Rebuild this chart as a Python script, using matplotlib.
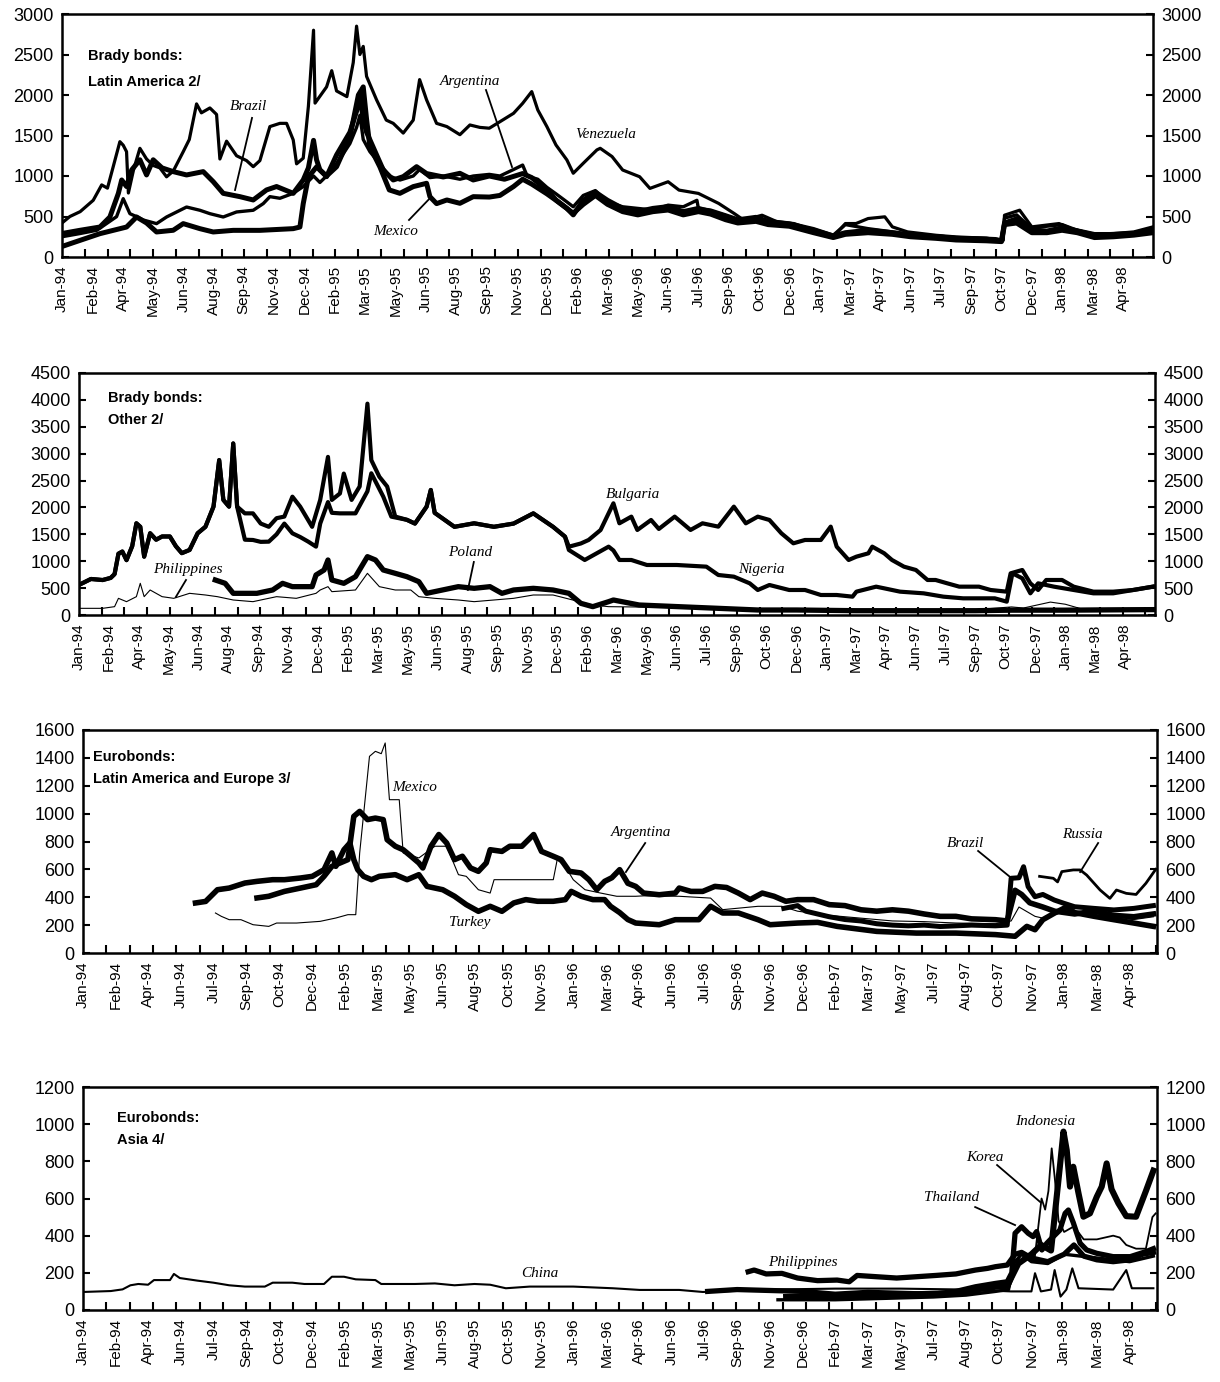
import matplotlib
matplotlib.use("Agg")
import matplotlib.pyplot as plt
import numpy as np

# ---------------- tick labels ----------------
labels_brady = ['Jan-94','Feb-94','Apr-94','May-94','Jun-94','Aug-94','Sep-94','Nov-94','Dec-94',
                'Feb-95','Mar-95','May-95','Jun-95','Aug-95','Sep-95','Nov-95','Dec-95','Feb-96',
                'Mar-96','May-96','Jun-96','Jul-96','Sep-96','Oct-96','Dec-96','Jan-97','Mar-97',
                'Apr-97','Jun-97','Jul-97','Sep-97','Oct-97','Dec-97','Jan-98','Mar-98','Apr-98']
labels_euro = ['Jan-94','Feb-94','Apr-94','Jun-94','Jul-94','Sep-94','Oct-94','Dec-94','Feb-95',
               'Mar-95','May-95','Jun-95','Aug-95','Oct-95','Nov-95','Jan-96','Mar-96','Apr-96',
               'Jun-96','Jul-96','Sep-96','Nov-96','Dec-96','Feb-97','Mar-97','May-97','Jul-97',
               'Aug-97','Oct-97','Nov-97','Jan-98','Mar-98','Apr-98']

# x positions are in units of tick-label slots (0 = first label)
# ---------------- Panel 1: Brady bonds, Latin America ----------------
ven_x = [0,0.26,0.6,1.03,1.31,1.5,1.69,1.91,2.02,2.13,2.19,2.36,2.57,2.79,3.01,3.23,3.45,3.67,4.0,4.2,4.44,4.6,4.88,5.1,5.21,
         5.43,5.76,6.09,6.31,6.53,6.86,7.19,7.41,7.63,7.74,7.96,8.13,8.3,8.35,8.73,8.9,9.06,9.4,9.61,9.72,9.83,9.94,10.05,
         10.38,10.7,10.93,11.26,11.59,11.8,12.03,12.36,12.7,13.13,13.46,13.79,14.1,14.45,14.9,15.2,15.5,15.7,16.0,16.3,16.66,
         16.87,17.2,17.65,17.76,18.15,18.5,19.06,19.4,20.0,20.36,21.0,21.67,22.18,22.5,23.1,23.6,24.15,24.8,25.45,25.85,26.2,
         26.6,27.15,27.4,27.9,28.85,29.5,30.8,31.06,31.1,31.6,32.0,32.9,33.3,34.07,34.7,35.37,36.0]
ven_y = [420,500,560,700,890,850,1115,1424,1380,1300,790,1075,1342,1210,1130,1100,990,1060,1300,1450,1890,1780,1840,1760,1210,
         1430,1250,1190,1115,1190,1610,1650,1650,1445,1150,1220,1860,2800,1900,2100,2300,2050,1980,2400,2850,2500,2600,2230,
         1940,1690,1650,1530,1690,2190,1940,1650,1610,1510,1630,1600,1590,1670,1774,1897,2042,1815,1610,1383,1198,
         1034,1157,1322,1342,1240,1074,991,847,929,826,785,661,537,454,516,434,413,330,248,413,413,
         475,496,372,310,268,248,227,206,516,578,372,413,351,289,289,310,372]

bra_x = [0,0.6,1.25,1.58,1.86,1.97,2.13,2.3,2.57,2.79,3.01,3.3,3.67,4.11,4.66,4.99,5.32,5.87,6.31,6.75,7.08,7.63,7.96,8.13,
         8.3,8.4,8.51,8.73,9.06,9.5,9.72,9.83,9.94,10.05,10.38,10.6,10.93,11.26,11.7,12.03,12.58,13.13,13.57,14.1,14.6,15.2,
         15.5,16.0,16.3,16.66,16.87,17.2,17.6,18.0,18.5,19.0,19.5,20.0,20.5,21.0,21.4,21.9,22.3,22.9,23.3,24.0,24.8,25.45,
         25.85,26.6,27.4,28.0,28.85,29.5,30.5,31.0,31.1,31.5,32.0,32.5,33.0,33.5,34.07,34.7,35.37,36.0]
bra_y = [290,330,370,494,786,951,870,1075,1200,1013,1200,1100,1054,1013,1054,930,786,745,704,828,870,786,951,1100,
         1440,1200,1075,992,1260,1540,1800,2000,1700,1540,1260,1075,951,992,1115,1030,988,1033,951,1000,960,1030,
         980,828,704,600,520,700,800,700,600,560,600,622,560,600,560,500,430,470,430,400,330,260,
         300,330,300,270,250,230,220,200,420,470,330,320,360,320,260,270,290,330]

arg_x = [0,0.6,1.15,1.8,2.02,2.24,2.46,2.68,3.12,3.45,4.11,4.55,4.88,5.32,5.76,6.31,6.64,6.86,7.19,7.63,7.96,8.3,8.51,8.73,
         9.06,9.5,9.72,9.83,9.94,10.16,10.49,10.8,11.15,11.59,11.8,12.14,12.58,13.13,13.57,14.1,14.45,14.9,15.2,15.35,15.7,
         16.0,16.3,16.66,16.87,17.2,17.6,18.0,18.5,19.0,19.5,20.0,20.5,20.95,21.0,21.4,21.9,22.3,22.9,23.3,24.0,24.8,25.45,
         25.85,26.6,27.4,28.0,28.85,29.5,30.5,31.0,31.1,31.5,32.0,32.5,33.0,33.5,34.07,34.7,35.37,36.0]
arg_y = [250,290,330,498,720,535,498,457,412,494,617,577,535,494,556,577,659,745,725,786,870,1000,920,1000,
         1150,1400,1600,1750,1450,1300,1150,1000,950,1000,1080,980,1000,960,1000,1020,1000,1080,1135,1000,960,
         860,780,680,620,760,820,680,620,600,580,640,620,700,600,580,520,470,500,450,420,350,270,
         400,350,310,280,260,240,230,210,480,520,350,380,400,330,280,290,300,350]

mex_x = [0,0.6,1.25,2.13,2.46,2.79,3.12,3.67,4.0,4.55,4.99,5.65,6.53,7.63,7.85,7.96,8.13,8.4,8.73,9.06,9.5,9.78,9.94,10.05,
         10.16,10.49,10.8,11.15,11.59,12.03,12.14,12.36,12.7,13.13,13.57,14.1,14.45,14.9,15.2,15.5,16.0,16.3,16.66,16.87,
         17.2,17.6,18.0,18.5,19.0,19.5,20.0,20.5,21.0,21.4,21.9,22.3,22.9,23.3,24.0,24.8,25.45,25.85,26.6,27.4,28.0,28.85,
         29.5,30.5,31.0,31.1,31.5,32.0,32.5,33.0,33.5,34.07,34.7,35.37,36.0]
mex_y = [130,206,288,370,494,420,309,330,412,350,309,329,329,350,370,659,988,1112,1000,1115,1482,2000,2100,1700,
         1360,1112,828,786,869,910,745,659,704,663,745,740,760,870,960,900,780,700,600,540,
         650,760,650,560,520,560,580,520,560,530,460,420,440,400,380,300,240,280,300,280,250,230,
         210,200,190,400,420,300,300,330,300,240,250,270,300]

# ---------------- Panel 2: Brady bonds, Other ----------------
bul_x = [0,0.4,0.79,1.06,1.19,1.32,1.45,1.59,1.78,1.92,2.05,2.18,2.38,2.58,2.78,3.04,3.24,3.44,3.7,3.97,4.23,4.5,4.69,4.83,
         5.02,5.16,5.29,5.55,5.82,6.08,6.35,6.61,6.87,7.14,7.4,7.8,8.07,8.33,8.46,8.73,8.86,9.12,9.39,9.65,9.78,10.05,10.31,
         10.58,10.97,11.24,11.63,11.77,11.9,12.56,13.22,13.88,14.54,15.2,15.86,16.26,16.39,16.79,17.05,17.45,17.88,18.08,
         18.48,18.68,19.14,19.4,19.93,20.46,20.86,21.39,21.91,22.31,22.71,23.1,23.5,23.9,24.29,24.82,25.15,25.35,25.75,
         26.01,26.41,26.54,26.94,27.2,27.6,28.0,28.39,28.66,29.05,29.45,30.11,30.5,31.04,31.17,31.56,31.83,32.09,32.36,
         32.89,33.28,33.94,34.6,35.27,35.93]
bul_y = [560,670,650,690,760,1140,1180,1020,1280,1705,1640,1085,1520,1400,1460,1460,1280,1150,1210,1520,1640,2015,2880,2140,
         2015,3190,2015,1890,1890,1700,1640,1800,1830,2200,2015,1640,2140,2940,2140,2260,2630,2140,2390,3930,2880,2570,2390,
         1830,1770,1700,2015,2325,1900,1640,1705,1640,1700,1890,1640,1457,1270,1330,1395,1580,2077,1705,
         1829,1581,1767,1600,1829,1581,1705,1643,2015,1705,1829,1767,1519,1333,1395,1395,1643,1271,1023,
         1085,1147,1271,1147,1023,899,837,651,651,589,527,527,465,434,775,837,589,465,651,
         651,527,434,434,465,527]

nig_x = [0,0.4,0.79,1.06,1.19,1.32,1.45,1.59,1.78,1.92,2.05,2.18,2.38,2.58,2.78,3.04,3.24,3.44,3.7,3.97,4.23,4.5,4.69,4.83,
         5.02,5.16,5.29,5.55,5.82,6.08,6.35,6.61,6.87,7.14,7.4,7.67,7.93,8.07,8.33,8.46,8.73,9.25,9.65,9.78,10.18,10.45,
         10.97,11.24,11.63,11.77,11.9,12.56,13.22,13.88,14.54,15.2,15.86,16.26,16.39,16.92,17.32,17.72,17.88,18.08,18.48,
         19.0,20.0,20.99,21.39,21.91,22.44,22.71,23.1,23.76,24.29,24.82,25.35,25.88,26.01,26.67,26.94,27.47,28.26,28.92,
         29.58,30.64,31.04,31.23,31.56,31.83,32.09,32.62,33.28,33.94,34.6,35.27,35.93]
nig_y = [560,670,650,690,760,1140,1180,1020,1280,1705,1640,1085,1520,1400,1460,1460,1280,1150,1210,1520,1640,2015,2880,2140,
         2015,3190,2015,1400,1395,1360,1364,1500,1700,1519,1450,1364,1271,1700,2100,1900,1890,1890,2300,2635,2201,1829,
         1770,1700,2015,2325,1900,1640,1705,1640,1700,1890,1640,1457,1209,1023,1147,1271,1200,1023,1023,
         930,930,899,744,713,589,465,558,465,465,372,372,341,434,527,496,434,403,341,
         310,310,248,775,682,403,589,527,465,403,403,465,527]

pol_x = [4.56,4.89,5.16,5.55,5.95,6.48,6.81,7.14,7.8,7.93,8.2,8.33,8.46,8.86,9.25,9.65,9.92,10.18,10.58,10.97,11.37,11.63,
         12.16,12.69,13.22,13.75,14.15,14.54,15.2,15.86,16.39,16.79,17.19,17.72,17.88,18.74,20.06,21.39,22.71,24.0,26.0,
         28.0,30.0,31.2,33.0,35.93]
pol_y = [651,589,403,403,403,465,589,527,527,744,837,1023,651,589,713,1085,1023,837,775,713,620,403,
         465,527,496,527,403,465,496,465,403,217,155,248,279,186,155,124,93,93,80,
         80,80,90,90,100]

phb_x = [0,0.79,1.19,1.32,1.59,1.92,2.05,2.18,2.38,2.78,3.17,3.7,4.23,4.63,5.16,5.82,6.61,7.27,7.93,8.07,8.33,8.46,9.25,
         9.65,10.05,10.58,11.1,11.37,11.9,12.69,13.22,13.88,14.54,15.2,15.86,16.52,17.19,17.72,18.5,20.0,22.0,24.0,26.0,
         28.0,30.0,31.2,31.6,32.5,33.0,33.5,35.93]
phb_y = [124,124,155,310,248,341,589,341,465,341,310,403,372,341,279,248,341,310,403,465,527,434,465,
         775,527,465,465,341,310,279,248,279,310,372,372,279,186,155,150,140,120,110,100,
         100,100,150,130,240,200,120,130]

# ---------------- Panel 3: Eurobonds, Latin America and Europe ----------------
tur_x = [3.44,3.75,4.11,4.47,4.95,5.32,5.8,6.16,6.65,7.01,7.37,7.61,7.73,7.98,8.16,8.28,8.4,8.58,8.82,9.06,9.55,9.91,10.27,
         10.52,11.0,11.36,11.72,12.09,12.45,12.81,13.17,13.54,13.9,14.38,14.75,14.93,15.23,15.59,15.95,16.13,16.41,16.66,
         16.9,17.62,18.11,18.83,19.19,19.56,20.04,20.64,21.01,21.85,22.46,23.06,24.27,25.48,26.69,27.9,28.5,28.86,29.11,
         29.35,29.71,30.07,30.32,30.92,31.52,32.13,32.73]
tur_y = [359,370,454,466,502,514,526,526,538,550,598,718,622,741,789,670,598,550,526,550,562,526,562,
         478,454,407,347,299,335,299,359,383,371,371,383,442,407,383,383,335,290,240,
         215,203,239,239,335,287,287,239,203,215,220,191,155,143,143,132,120,191,167,
         239,287,330,290,263,239,215,191]

are_x = [5.32,5.68,6.16,6.65,7.13,7.37,7.61,7.86,8.1,8.28,8.46,8.7,8.94,9.18,9.3,9.55,9.79,10.03,10.27,10.39,10.64,10.88,
         11.12,11.36,11.6,11.85,12.09,12.33,12.45,12.81,13.05,13.42,13.78,14.02,14.38,14.62,14.87,15.23,15.47,15.71,15.95,
         16.17,16.41,16.66,16.9,17.14,17.62,18.11,18.23,18.59,18.95,19.32,19.68,20.04,20.4,20.77,21.13,21.49,21.85,22.34,
         22.82,23.3,23.79,24.27,24.75,25.24,25.72,26.21,26.69,27.17,27.9,28.26,28.5,28.7,28.95,29.35,29.71,30.32,30.92,
         31.52,32.13,32.73]
are_y = [395,407,442,466,490,550,622,646,670,980,1016,957,968,957,813,766,741,694,646,610,766,850,
         789,670,694,610,586,646,741,729,766,766,850,729,694,670,586,574,526,454,514,
         540,598,500,478,430,418,430,466,442,442,478,470,430,383,430,407,371,383,383,
         347,340,310,300,310,300,280,263,263,245,239,230,450,420,360,330,300,280,300,
         270,260,280]

bre_x = [21.43,21.85,22.1,22.46,22.82,23.3,23.79,24.27,24.75,25.24,25.72,26.21,26.69,27.17,27.9,28.26,28.38,28.62,28.76,
         28.9,29.11,29.35,29.7,30.0,30.32,30.92,31.52,32.13,32.73]
bre_y = [320,340,300,280,260,240,230,210,200,195,200,190,195,200,195,200,536,540,619,
         476,404,420,380,356,332,320,309,320,340]

mxe_x = [4.05,4.23,4.47,4.83,5.2,5.68,5.92,6.53,7.25,7.73,8.1,8.34,8.46,8.76,8.94,9.12,9.24,9.37,9.67,9.79,10.27,10.76,
         11.12,11.48,11.72,12.09,12.45,12.57,13.17,14.38,14.5,14.75,14.99,15.35,15.83,16.32,16.9,17.14,18.23,19.19,19.56,
         20.64,21.37,21.85,22.82,23.79,24.75,25.72,26.69,27.9,28.38,28.62,29.11,29.35,30.07,30.92,31.52,32.13,32.73]
mxe_y = [287,263,239,239,203,191,215,215,227,251,275,275,718,1411,1447,1430,1507,1100,1100,718,682,766,
         766,562,550,454,430,526,526,526,670,620,526,454,430,407,407,410,407,394,311,
         335,335,300,270,250,230,225,215,210,230,330,263,250,300,270,250,240,260]

rus_x = [29.25,29.67,29.8,29.93,30.28,30.49,30.69,31.1,31.4,31.6,31.9,32.2,32.5,32.8]
rus_y = [550,536,510,584,596,596,559,452,392,452,428,420,500,600]

# ---------------- Panel 4: Eurobonds, Asia ----------------
chi_x = [0,0.85,1.21,1.45,1.69,1.99,2.17,2.66,2.78,2.96,3.5,3.99,4.47,4.95,5.56,5.8,6.4,6.77,7.37,7.61,7.98,8.34,8.94,9.12,
         10.15,10.76,11.36,11.97,12.45,12.93,13.66,14.99,16.2,17.02,18.23,18.95,19.5,21.0,23.0,25.0,27.0,28.38,29.0,29.11,
         29.29,29.6,29.71,29.89,30.07,30.25,30.44,31.5,31.9,32.07,32.73]
chi_y = [97,102,111,133,140,136,161,161,194,172,158,147,133,126,126,147,147,140,140,179,179,165,161,140,
         140,143,133,140,136,117,126,126,117,108,108,97,100,110,115,115,110,100,100,198,
         100,110,215,72,110,224,117,110,215,117,117]

pha_x = [20.34,20.52,20.89,21.37,21.85,22.46,23.06,23.43,23.67,24.27,24.88,25.48,26.08,26.69,27.29,27.66,27.9,28.26,28.5,
         28.7,29.0,29.5,30.0,30.3,30.6,31.0,31.5,32.0,32.4,32.73]
pha_y = [206,215,194,197,172,158,161,152,186,179,172,179,186,194,215,224,233,242,300,
         310,280,260,300,350,290,270,260,270,300,310]

tha_x = [19.1,20.0,21.0,22.0,23.0,24.0,25.0,26.0,26.69,27.29,27.9,28.26,28.4,28.5,28.7,28.9,29.05,29.16,29.32,29.47,29.67,
         29.87,30.03,30.13,30.28,30.49,30.69,31.0,31.5,32.02,32.5,32.73]
tha_y = [100,110,105,100,85,95,90,85,100,125,143,152,200,413,448,413,395,422,323,359,395,
         430,520,538,470,359,323,305,287,287,314,330]

ind_x = [21.5,22.5,23.5,24.5,25.5,26.5,27.29,27.9,28.26,28.6,29.0,29.3,29.6,29.87,29.98,30.08,30.18,30.28,30.44,30.59,
         30.79,31.0,31.15,31.3,31.45,31.66,31.9,32.2,32.5,32.73]
ind_y = [70,75,70,80,85,90,110,125,130,250,300,350,320,771,960,860,664,771,628,502,
         520,610,664,789,650,574,505,502,640,750]

kor_x = [24.0,26.0,27.5,28.3,28.5,28.65,28.9,29.1,29.31,29.42,29.52,29.62,29.72,29.83,30.0,30.3,30.6,31.0,31.5,31.7,31.9,
         32.2,32.5,32.7,32.8]
kor_y = [75,80,95,110,200,300,290,280,600,540,640,870,700,480,420,450,380,380,400,390,350,
         330,330,500,520]

oth_x = [21.25,22.0,23.0,24.0,25.0,26.0,27.0,27.9,28.3,28.45,28.7,29.0,29.5,30.0,30.5,31.0,31.5,32.0,32.73]
oth_y = [55,55,55,60,65,70,80,100,110,250,300,260,250,300,290,280,270,260,290]

# ---------------- figure ----------------
W, H = 1220, 1382
fig = plt.figure(figsize=(W/100, H/100), dpi=100)
SANS = ['Liberation Sans', 'DejaVu Sans']
SERIF = ['Liberation Serif', 'DejaVu Serif']

def axes_px(l, r, t, b):
    return fig.add_axes([l/W, 1-b/H, (r-l)/W, (b-t)/H])

def setup(ax, labels, xmax, ymax, ystep, minor_step):
    ax.set_xlim(0, xmax)
    ax.set_ylim(0, ymax)
    ax.set_xticks(np.arange(len(labels)))
    ax.set_xticklabels(labels, rotation=90, fontsize=11, family=SANS)
    ax.set_xticks(np.arange(0, xmax, minor_step), minor=True)
    ax.tick_params(axis='x', which='major', length=0, pad=6)
    ax.tick_params(axis='x', which='minor', direction='in', length=6, width=1.5, top=False)
    ax.set_yticks(np.arange(0, ymax + 1, ystep))
    ax.tick_params(axis='y', which='major', direction='in', length=5, width=1.5,
                   left=True, right=True, labelleft=True, labelright=True, labelsize=13, pad=6)
    for lab in ax.get_yticklabels():
        lab.set_family(SANS)
    for s in ax.spines.values():
        s.set_linewidth(1.8)

def title(ax, x, y1, y2, l1, l2):
    ax.text(x, y1, l1, transform=ax.transAxes, fontsize=10.5, fontweight='bold', family=SANS, va='center', ha='left')
    ax.text(x, y2, l2, transform=ax.transAxes, fontsize=10.5, fontweight='bold', family=SANS, va='center', ha='left')

def lab(ax, txt, xy, start=None, end=None):
    ax.text(xy[0], xy[1], txt, fontsize=11, style='italic', family=SERIF, ha='center', va='center')
    if start is not None:
        ax.plot([start[0], end[0]], [start[1], end[1]], color='black', lw=1.3)

K = 'black'
# Panel 1
ax1 = axes_px(62, 1153, 14, 257)
setup(ax1, labels_brady, 36.0, 3000, 500, 0.752)
ax1.plot(arg_x, arg_y, color=K, lw=2.4)
ax1.plot(bra_x, bra_y, color=K, lw=3.6)
ax1.plot(mex_x, mex_y, color=K, lw=3.6)
ax1.plot(ven_x, ven_y, color=K, lw=2.3)
title(ax1, 0.024, 0.827, 0.72, 'Brady bonds:', 'Latin America 2/')
lab(ax1, 'Brazil', (6.14, 1852), (6.27, 1717), (5.71, 827))
lab(ax1, 'Argentina', (13.47, 2161), (13.99, 2062), (14.85, 1111))
lab(ax1, 'Venezuela', (17.95, 1507))
lab(ax1, 'Mexico', (11.02, 309), (11.45, 457), (12.18, 741))

# Panel 2
ax2 = axes_px(79, 1155, 373, 615)
setup(ax2, labels_brady, 36.0, 4500, 500, 0.759)
ax2.plot(phb_x, phb_y, color=K, lw=0.8)
ax2.plot(nig_x, nig_y, color=K, lw=3.0)
ax2.plot(bul_x, bul_y, color=K, lw=3.0)
ax2.plot(pol_x, pol_y, color=K, lw=3.8)
title(ax2, 0.027, 0.897, 0.806, 'Brady bonds:', 'Other 2/')
lab(ax2, 'Philippines', (3.65, 837), (3.58, 651), (3.24, 335))
lab(ax2, 'Poland', (13.08, 1153), (13.21, 986), (13.01, 465))
lab(ax2, 'Bulgaria', (18.53, 2232))
lab(ax2, 'Nigeria', (22.84, 837))

# Panel 3
ax3 = axes_px(83, 1157, 730, 953)
setup(ax3, labels_euro, 32.84, 1600, 200, 0.713)
ax3.plot(mxe_x, mxe_y, color=K, lw=0.8)
ax3.plot(tur_x, tur_y, color=K, lw=4.0)
ax3.plot(are_x, are_y, color=K, lw=4.0)
ax3.plot(bre_x, bre_y, color=K, lw=3.6)
ax3.plot(rus_x, rus_y, color=K, lw=2.0)
title(ax3, 0.0093, 0.879, 0.78, 'Eurobonds:', 'Latin America and Europe 3/')
lab(ax3, 'Mexico', (10.15, 1191))
lab(ax3, 'Argentina', (17.06, 861), (17.19, 789), (16.6, 581))
lab(ax3, 'Turkey', (11.83, 222))
lab(ax3, 'Brazil', (26.97, 789), (27.37, 732), (28.35, 545))
lab(ax3, 'Russia', (30.55, 847), (31.04, 789), (30.49, 581))

# Panel 4
ax4 = axes_px(83, 1157, 1087, 1310)
setup(ax4, labels_euro, 32.84, 1200, 200, 0.713)
ax4.plot(chi_x, chi_y, color=K, lw=1.5)
ax4.plot(oth_x, oth_y, color=K, lw=2.4)
ax4.plot(tha_x, tha_y, color=K, lw=3.8)
ax4.plot(pha_x, pha_y, color=K, lw=3.8)
ax4.plot(kor_x, kor_y, color=K, lw=1.3)
ax4.plot(ind_x, ind_y, color=K, lw=4.4)
title(ax4, 0.0317, 0.861, 0.762, 'Eurobonds:', 'Asia 4/')
lab(ax4, 'China', (13.98, 199))
lab(ax4, 'Philippines', (22.02, 258))
lab(ax4, 'Thailand', (26.57, 608), (27.28, 554), (28.5, 457))
lab(ax4, 'Korea', (27.58, 823), (27.95, 780), (29.27, 581))
lab(ax4, 'Indonesia', (29.42, 1017))

fig.savefig('out.png', dpi=100)
